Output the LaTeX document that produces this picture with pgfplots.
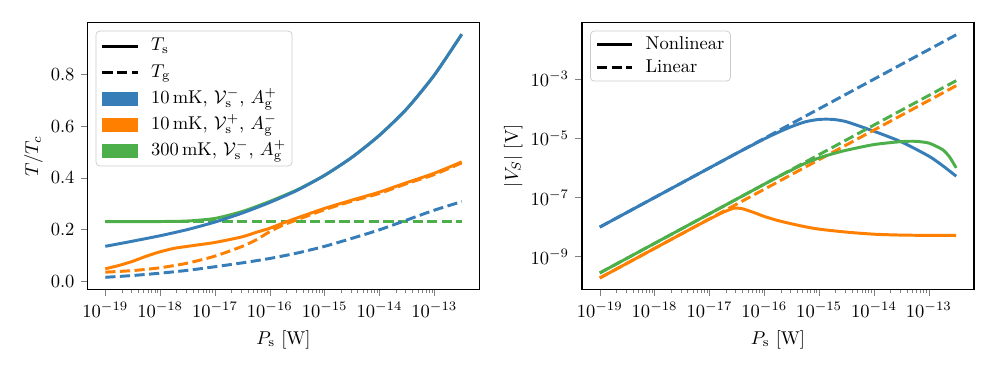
\documentclass[border=0pt]{standalone}
\usepackage{pgfplots}
\pgfplotsset{compat=1.18}
\definecolor{cblue}{HTML}{377EB8}
\definecolor{corange}{HTML}{FF7F00}
\definecolor{cgreen}{HTML}{4DAF4A}

\pgfplotsset{
  every axis/.append style={
    scale only axis, width=211.7pt, height=144.2pt,
    axis line style={line width=0.8pt},
    tick align=outside, xtick pos=bottom, ytick pos=left,
    major tick length=3.5pt, minor tick length=2pt,
    ylabel shift=-2.5pt,
    legend cell align=left,
    legend style={draw=black!20, rounded corners=2pt, fill=white,
      at={(0,1)}, anchor=north west,
      xshift=4.4pt, yshift=-4.5pt, inner xsep=2.7pt, inner ysep=2.2pt,
      column sep=6pt},
  },
  sol/.style={line width=1.6pt, smooth, tension=0.4},
  das/.style={line width=1.6pt, dash pattern=on 5.5pt off 2.4pt, smooth, tension=0.4},
}

\begin{document}
\begin{tikzpicture}
\useasboundingbox (-47.25pt,-43.5pt) rectangle (491.1pt,156.3pt);

% ---- left: temperatures
\begin{axis}[at={(0pt,0pt)}, anchor=south west,
  xmode=log, xmin=4.73e-20, xmax=6.68e-13,
  xtick={1e-19,1e-18,1e-17,1e-16,1e-15,1e-14,1e-13},
  xlabel={$P_\mathrm{s}$ [W]},
  ymin=-0.032, ymax=1.002,
  ytick={0,0.2,0.4,0.6,0.8},
  yticklabel style={/pgf/number format/fixed, /pgf/number format/fixed zerofill, /pgf/number format/precision=1},
  ylabel={$T/T_c$},
  legend style={row sep=2.1pt, nodes={inner sep=0.5pt, text height=8pt, text depth=3pt}},
]
\addlegendimage{legend image code/.code={\draw[black, line width=1.6pt, sharp corners] (0pt,0pt) -- (19pt,0pt);}}
\addlegendentry{$T_\mathrm{s}$}
\addlegendimage{legend image code/.code={\draw[black, line width=1.6pt, dash pattern=on 5.5pt off 2.4pt, sharp corners] (0pt,0pt) -- (19pt,0pt);}}
\addlegendentry{$T_\mathrm{g}$}
\addlegendimage{legend image code/.code={\fill[cblue, sharp corners] (0pt,-3.5pt) rectangle (19pt,3.5pt);}}
\addlegendentry{10\,mK, $\mathcal{V}_\mathrm{s}^{-}$, $A_\mathrm{g}^{+}$}
\addlegendimage{legend image code/.code={\fill[corange, sharp corners] (0pt,-3.5pt) rectangle (19pt,3.5pt);}}
\addlegendentry{10\,mK, $\mathcal{V}_\mathrm{s}^{+}$, $A_\mathrm{g}^{-}$}
\addlegendimage{legend image code/.code={\fill[cgreen, sharp corners] (0pt,-3.5pt) rectangle (19pt,3.5pt);}}
\addlegendentry{300\,mK, $\mathcal{V}_\mathrm{s}^{-}$, $A_\mathrm{g}^{+}$}

% 300 mK
\addplot[cgreen, sol, forget plot] coordinates {
 (1e-19,0.231) (3.162e-19,0.231) (1e-18,0.231) (3.162e-18,0.233)
 (1e-17,0.243) (3.162e-17,0.270) (1e-16,0.309) (3.162e-16,0.354)
 (1e-15,0.410) (3.162e-15,0.480) (1e-14,0.565) (3.162e-14,0.668)
 (1e-13,0.798) (3.162e-13,0.956)};
\addplot[cgreen, das, forget plot] coordinates {
 (1e-19,0.231) (3.162e-13,0.231)};
% 10 mK, V+
\addplot[corange, sol, forget plot] coordinates {
 (1e-19,0.048) (1.778e-19,0.061) (3.162e-19,0.077) (5.623e-19,0.097)
 (1e-18,0.114) (1.778e-18,0.127) (3.162e-18,0.135) (1e-17,0.150)
 (3.162e-17,0.172) (5.623e-17,0.189) (1e-16,0.205) (1.778e-16,0.226)
 (3.162e-16,0.245) (1e-15,0.282) (3.162e-15,0.314) (1e-14,0.345)
 (3.162e-14,0.382) (1e-13,0.418) (3.162e-13,0.462)};
\addplot[corange, das, forget plot] coordinates {
 (1e-19,0.035) (3.162e-19,0.041) (1e-18,0.052) (3.162e-18,0.070)
 (1e-17,0.097) (3.162e-17,0.135) (5.623e-17,0.160) (1e-16,0.192)
 (1.778e-16,0.218) (3.162e-16,0.238) (1e-15,0.277) (3.162e-15,0.310)
 (1e-14,0.340) (3.162e-14,0.378) (1e-13,0.413) (3.162e-13,0.458)};
% 10 mK, V-
\addplot[cblue, sol, forget plot] coordinates {
 (1e-19,0.135) (3.162e-19,0.155) (1e-18,0.176) (3.162e-18,0.200)
 (1e-17,0.229) (3.162e-17,0.264) (1e-16,0.305) (3.162e-16,0.352)
 (1e-15,0.410) (3.162e-15,0.480) (1e-14,0.565) (3.162e-14,0.668)
 (1e-13,0.798) (3.162e-13,0.956)};
\addplot[cblue, das, forget plot] coordinates {
 (1e-19,0.015) (3.162e-19,0.022) (1e-18,0.031) (3.162e-18,0.042)
 (1e-17,0.056) (3.162e-17,0.071) (1e-16,0.088) (3.162e-16,0.109)
 (1e-15,0.135) (3.162e-15,0.166) (1e-14,0.199) (3.162e-14,0.237)
 (1e-13,0.275) (3.162e-13,0.308)};
\end{axis}

% ---- right: voltages
\begin{axis}[at={(267pt,0pt)}, anchor=south west,
  xmode=log, xmin=4.73e-20, xmax=6.68e-13,
  xtick={1e-19,1e-18,1e-17,1e-16,1e-15,1e-14,1e-13},
  xlabel={$P_\mathrm{s}$ [W]},
  ymode=log, ymin=7.8e-11, ymax=8.3e-2,
  ytick={1e-9,1e-7,1e-5,1e-3}, yminorticks=false,
  ylabel={$|V_S|$ [V]},
  legend style={row sep=2.6pt, nodes={inner sep=0.5pt, text height=7pt, text depth=2pt}},
]
\addlegendimage{legend image code/.code={\draw[black, line width=1.6pt, sharp corners] (0pt,0pt) -- (19pt,0pt);}}
\addlegendentry{Nonlinear}
\addlegendimage{legend image code/.code={\draw[black, line width=1.6pt, dash pattern=on 5.5pt off 2.4pt, sharp corners] (0pt,0pt) -- (19pt,0pt);}}
\addlegendentry{Linear}

% 10 mK, V-
\addplot[cblue, sol, forget plot] coordinates {
 (1e-19,1e-8) (1e-17,1e-6) (3.162e-17,3.162e-6) (1e-16,9.55e-6)
 (1.778e-16,1.585e-5) (3.162e-16,2.512e-5) (5.623e-16,3.631e-5)
 (1e-15,4.365e-5) (1.778e-15,4.365e-5) (3.162e-15,3.631e-5)
 (1e-14,1.738e-5) (3.162e-14,7.586e-6) (1e-13,2.512e-6)
 (1.778e-13,1.202e-6) (3.162e-13,5.248e-7)};
\addplot[cblue, das, forget plot] coordinates {
 (1e-19,1e-8) (3.162e-13,3.162e-2)};
% 10 mK, V+
\addplot[corange, sol, forget plot] coordinates {
 (1e-19,1.905e-10) (3.162e-18,6.026e-9) (1e-17,1.862e-8)
 (1.778e-17,3.162e-8) (2.818e-17,4.365e-8) (3.981e-17,4.169e-8)
 (6.31e-17,3.162e-8) (1e-16,2.291e-8) (1.778e-16,1.660e-8)
 (3.162e-16,1.288e-8) (5.623e-16,1.023e-8) (1e-15,8.511e-9)
 (3.162e-15,6.761e-9) (1e-14,5.754e-9) (3.162e-14,5.370e-9)
 (1e-13,5.248e-9) (3.162e-13,5.248e-9)};
\addplot[corange, das, forget plot] coordinates {
 (1e-19,1.905e-10) (3.162e-13,6.026e-4)};
% 300 mK
\addplot[cgreen, sol, forget plot] coordinates {
 (1e-19,2.818e-10) (1e-16,2.818e-7) (3.162e-16,8.511e-7)
 (5.623e-16,1.445e-6) (1e-15,2.188e-6) (1.778e-15,3.020e-6)
 (3.162e-15,3.981e-6) (1e-14,6.166e-6) (3.162e-14,7.762e-6)
 (5.623e-14,7.943e-6) (1e-13,6.918e-6) (1.778e-13,4.169e-6)
 (2.371e-13,2.399e-6) (3.162e-13,1e-6)};
\addplot[cgreen, das, forget plot] coordinates {
 (1e-19,2.818e-10) (3.162e-13,8.913e-4)};
\end{axis}
\end{tikzpicture}
\end{document}
